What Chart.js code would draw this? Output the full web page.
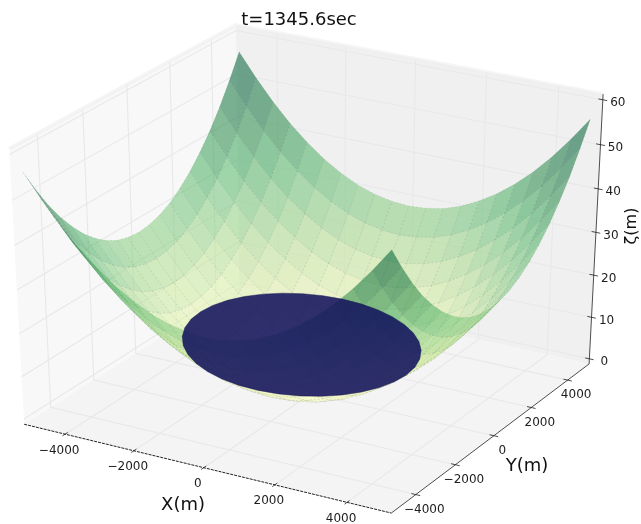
<!DOCTYPE html>
<html>
<head>
  <meta charset="UTF-8">
  <title>t=1345.6sec</title>
  <script src="https://cdn.jsdelivr.net/npm/chart.js"></script>
  <style>
    html, body { margin: 0; padding: 0; background: #fff; }
    canvas { display: block; }
  </style>
</head>
<body>
  <canvas id="bowl" width="641" height="524"></canvas>

  <script>
    const chartTitle = 't=1345.6sec';
    const xLabel = 'X(m)';
    const yLabel = 'Y(m)';
    const zLabel = 'ζ(m)';

    const xTicks = [-4000, -2000, 0, 2000, 4000];
    const yTicks = [-4000, -2000, 0, 2000, 4000];
    const zTicks = [0, 10, 20, 30, 40, 50, 60];
    const xLimits = [-5208, 5208];
    const yLimits = [-5208, 5208];
    const zLimits = [-1.25, 61.25];

    // bed grid
    const gridX = [-5000, -4500, -4000, -3500, -3000, -2500, -2000, -1500, -1000, -500, 0, 500, 1000, 1500, 2000, 2500, 3000, 3500, 4000, 4500, 5000];
    const gridY = [-5000, -4500, -4000, -3500, -3000, -2500, -2000, -1500, -1000, -500, 0, 500, 1000, 1500, 2000, 2500, 3000, 3500, 4000, 4500, 5000];
    const bedZ = [
      [56.0, 50.7, 45.9, 41.7, 38.1, 35.0, 32.5, 30.5, 29.1, 28.3, 28.0, 28.3, 29.1, 30.5, 32.5, 35.0, 38.1, 41.7, 45.9, 50.7, 56.0],
      [50.7, 45.4, 40.6, 36.4, 32.8, 29.7, 27.2, 25.2, 23.8, 23.0, 22.7, 23.0, 23.8, 25.2, 27.2, 29.7, 32.8, 36.4, 40.6, 45.4, 50.7],
      [45.9, 40.6, 35.8, 31.6, 28.0, 24.9, 22.4, 20.4, 19.0, 18.2, 17.9, 18.2, 19.0, 20.4, 22.4, 24.9, 28.0, 31.6, 35.8, 40.6, 45.9],
      [41.7, 36.4, 31.6, 27.4, 23.8, 20.7, 18.2, 16.2, 14.8, 14.0, 13.7, 14.0, 14.8, 16.2, 18.2, 20.7, 23.8, 27.4, 31.6, 36.4, 41.7],
      [38.1, 32.8, 28.0, 23.8, 20.2, 17.1, 14.6, 12.6, 11.2, 10.4, 10.1, 10.4, 11.2, 12.6, 14.6, 17.1, 20.2, 23.8, 28.0, 32.8, 38.1],
      [35.0, 29.7, 24.9, 20.7, 17.1, 14.0, 11.5, 9.5, 8.1, 7.3, 7.0, 7.3, 8.1, 9.5, 11.5, 14.0, 17.1, 20.7, 24.9, 29.7, 35.0],
      [32.5, 27.2, 22.4, 18.2, 14.6, 11.5, 9.0, 7.0, 5.6, 4.8, 4.5, 4.8, 5.6, 7.0, 9.0, 11.5, 14.6, 18.2, 22.4, 27.2, 32.5],
      [30.5, 25.2, 20.4, 16.2, 12.6, 9.5, 7.0, 5.0, 3.6, 2.8, 2.5, 2.8, 3.6, 5.0, 7.0, 9.5, 12.6, 16.2, 20.4, 25.2, 30.5],
      [29.1, 23.8, 19.0, 14.8, 11.2, 8.1, 5.6, 3.6, 2.2, 1.4, 1.1, 1.4, 2.2, 3.6, 5.6, 8.1, 11.2, 14.8, 19.0, 23.8, 29.1],
      [28.3, 23.0, 18.2, 14.0, 10.4, 7.3, 4.8, 2.8, 1.4, 0.6, 0.3, 0.6, 1.4, 2.8, 4.8, 7.3, 10.4, 14.0, 18.2, 23.0, 28.3],
      [28.0, 22.7, 17.9, 13.7, 10.1, 7.0, 4.5, 2.5, 1.1, 0.3, 0.0, 0.3, 1.1, 2.5, 4.5, 7.0, 10.1, 13.7, 17.9, 22.7, 28.0],
      [28.3, 23.0, 18.2, 14.0, 10.4, 7.3, 4.8, 2.8, 1.4, 0.6, 0.3, 0.6, 1.4, 2.8, 4.8, 7.3, 10.4, 14.0, 18.2, 23.0, 28.3],
      [29.1, 23.8, 19.0, 14.8, 11.2, 8.1, 5.6, 3.6, 2.2, 1.4, 1.1, 1.4, 2.2, 3.6, 5.6, 8.1, 11.2, 14.8, 19.0, 23.8, 29.1],
      [30.5, 25.2, 20.4, 16.2, 12.6, 9.5, 7.0, 5.0, 3.6, 2.8, 2.5, 2.8, 3.6, 5.0, 7.0, 9.5, 12.6, 16.2, 20.4, 25.2, 30.5],
      [32.5, 27.2, 22.4, 18.2, 14.6, 11.5, 9.0, 7.0, 5.6, 4.8, 4.5, 4.8, 5.6, 7.0, 9.0, 11.5, 14.6, 18.2, 22.4, 27.2, 32.5],
      [35.0, 29.7, 24.9, 20.7, 17.1, 14.0, 11.5, 9.5, 8.1, 7.3, 7.0, 7.3, 8.1, 9.5, 11.5, 14.0, 17.1, 20.7, 24.9, 29.7, 35.0],
      [38.1, 32.8, 28.0, 23.8, 20.2, 17.1, 14.6, 12.6, 11.2, 10.4, 10.1, 10.4, 11.2, 12.6, 14.6, 17.1, 20.2, 23.8, 28.0, 32.8, 38.1],
      [41.7, 36.4, 31.6, 27.4, 23.8, 20.7, 18.2, 16.2, 14.8, 14.0, 13.7, 14.0, 14.8, 16.2, 18.2, 20.7, 23.8, 27.4, 31.6, 36.4, 41.7],
      [45.9, 40.6, 35.8, 31.6, 28.0, 24.9, 22.4, 20.4, 19.0, 18.2, 17.9, 18.2, 19.0, 20.4, 22.4, 24.9, 28.0, 31.6, 35.8, 40.6, 45.9],
      [50.7, 45.4, 40.6, 36.4, 32.8, 29.7, 27.2, 25.2, 23.8, 23.0, 22.7, 23.0, 23.8, 25.2, 27.2, 29.7, 32.8, 36.4, 40.6, 45.4, 50.7],
      [56.0, 50.7, 45.9, 41.7, 38.1, 35.0, 32.5, 30.5, 29.1, 28.3, 28.0, 28.3, 29.1, 30.5, 32.5, 35.0, 38.1, 41.7, 45.9, 50.7, 56.0]
    ];

    // water edge, read round the dark disc
    const waterX = [2651, 2606, 2472, 2252, 1955, 1589, 1164, 693, 194, -324, -842, -1341, -1812, -2237, -2603, -2900, -3120, -3254, -3299, -3254, -3120, -2900, -2603, -2237, -1812, -1341, -842, -324, 194, 693, 1164, 1589, 1955, 2252, 2472, 2606];
    const waterY = [132, 650, 1149, 1620, 2045, 2411, 2708, 2928, 3062, 3107, 3062, 2928, 2708, 2411, 2045, 1620, 1149, 650, 132, -400, -920, -1410, -1850, -2230, -2540, -2770, -2910, -2960, -2910, -2770, -2540, -2230, -1850, -1410, -920, -400];
    const waterZ = [7.80, 7.83, 7.93, 8.08, 8.28, 8.53, 8.82, 9.14, 9.48, 9.83, 10.18, 10.52, 10.84, 11.13, 11.38, 11.58, 11.73, 11.83, 11.86, 11.83, 11.73, 11.58, 11.38, 11.13, 10.84, 10.52, 10.18, 9.83, 9.48, 9.14, 8.82, 8.53, 8.28, 8.08, 7.93, 7.83];

    // same camera as a default mplot3d view: elev 30, azim -60, dist 10
    const right = [0.866, 0.5, 0];
    const up = [-0.25, 0.433, 0.866];
    const toEye = [0.433, -0.75, 0.5];
    const camDist = 10;

    function centred(x, y, z) {
      return [
        (x - xLimits[0]) / (xLimits[1] - xLimits[0]) - 0.5,
        (y - yLimits[0]) / (yLimits[1] - yLimits[0]) - 0.5,
        (z - zLimits[0]) / (zLimits[1] - zLimits[0]) - 0.5
      ];
    }
    const dot = (a, b) => a[0] * b[0] + a[1] * b[1] + a[2] * b[2];
    function depth(x, y, z) {
      return camDist - dot(centred(x, y, z), toEye);
    }
    function project(x, y, z) {
      const p = centred(x, y, z);
      const d = depth(x, y, z);
      return { x: dot(p, right) * camDist / d, y: dot(p, up) * camDist / d };
    }

    const ylgn = [[255, 255, 229], [247, 252, 185], [217, 240, 163], [173, 221, 142], [120, 198, 121], [65, 171, 93], [35, 132, 67], [0, 104, 55], [0, 69, 41]];
    function bedColor(z) {
      const t = Math.min(0.999, Math.max(0, z / 56)) * (ylgn.length - 1);
      const i = Math.floor(t), f = t - i;
      const c = ylgn[i].map((v, k) => Math.round(v + (ylgn[i + 1][k] - v) * f));
      return `rgba(${c[0]},${c[1]},${c[2]},0.55)`;
    }

    function path(points3d, color, width, dash) {
      return {
        data: points3d.map(p => project(p[0], p[1], p[2])),
        borderColor: color,
        borderWidth: width,
        borderDash: dash || [],
        fill: false,
        pointRadius: 0,
        tension: 0,
        clip: false
      };
    }
    function polygon(points3d, color, edge, width, dash) {
      const closed = points3d.concat([points3d[0]]);
      const ds = path(closed, edge, width, dash);
      ds.backgroundColor = color;
      ds.fill = 'shape';
      return ds;
    }

    const [x0, x1] = xLimits, [y0, y1] = yLimits, [z0, z1] = zLimits;
    const drawn = [];   // first entry is painted first

    // panes
    drawn.push(polygon([[x0, y0, z0], [x0, y1, z0], [x0, y1, z1], [x0, y0, z1]], '#f8f8f8', 'rgba(0,0,0,0)', 0));
    drawn.push(polygon([[x0, y1, z0], [x1, y1, z0], [x1, y1, z1], [x0, y1, z1]], '#f0f0f0', 'rgba(0,0,0,0)', 0));
    drawn.push(polygon([[x0, y0, z0], [x1, y0, z0], [x1, y1, z0], [x0, y1, z0]], '#f4f4f4', 'rgba(0,0,0,0)', 0));

    // pane grid
    const gridColor = '#e8e8e8';
    xTicks.forEach(t => {
      drawn.push(path([[t, y0, z0], [t, y1, z0], [t, y1, z1]], gridColor, 1.1));
    });
    yTicks.forEach(t => {
      drawn.push(path([[x1, t, z0], [x0, t, z0], [x0, t, z1]], gridColor, 1.1));
    });
    zTicks.forEach(t => {
      drawn.push(path([[x0, y0, t], [x0, y1, t], [x1, y1, t]], gridColor, 1.1));
    });
    drawn.push(path([[x0, y0, z1], [x0, y1, z1], [x1, y1, z1]], 'rgba(238,238,238,0.6)', 4));

    // bed cells, far ones first
    const cells = [];
    for (let j = 0; j < gridY.length - 1; j++) {
      for (let i = 0; i < gridX.length - 1; i++) {
        const corners = [
          [gridX[i], gridY[j], bedZ[j][i]],
          [gridX[i + 1], gridY[j], bedZ[j][i + 1]],
          [gridX[i + 1], gridY[j + 1], bedZ[j + 1][i + 1]],
          [gridX[i], gridY[j + 1], bedZ[j + 1][i]]
        ];
        const meanZ = (corners[0][2] + corners[1][2] + corners[2][2] + corners[3][2]) / 4;
        const meanX = (gridX[i] + gridX[i + 1]) / 2;
        const meanY = (gridY[j] + gridY[j + 1]) / 2;
        cells.push({ d: depth(meanX, meanY, meanZ), corners, meanZ });
      }
    }
    cells.sort((a, b) => b.d - a.d);
    cells.forEach(c => {
      drawn.push(polygon(c.corners, bedColor(c.meanZ), 'rgba(50,80,60,0.17)', 0.6, [2, 2]));
    });

    // water disc
    drawn.push(polygon(waterX.map((x, i) => [x, waterY[i], waterZ[i]]), 'rgba(18,18,92,0.88)', 'rgba(22,22,85,0.9)', 0.5));

    // axes and tick marks
    const axisColor = '#222';
    drawn.push(path([[x0, y0, z0], [x1, y0, z0]], axisColor, 1, [3, 1]));
    drawn.push(path([[x1, y0, z0], [x1, y1, z0], [x1, y1, z1]], axisColor, 0.8));
    xTicks.forEach(t => {
      drawn.push(path([[t, y0 - 120, z0], [t, y0 + 120, z0]], axisColor, 0.8));
    });
    yTicks.forEach(t => {
      drawn.push(path([[x1 - 120, t, z0], [x1 + 120, t, z0]], axisColor, 0.8));
    });
    zTicks.forEach(t => {
      drawn.push(path([[x1 - 120, y1, t], [x1 + 120, y1, t]], axisColor, 0.8));
    });

    const fmt = v => String(v).replace('-', '\u2212');
    const textFont = '"DejaVu Sans"';
    const textPlugin = {
      id: 'axisText',
      afterDatasetsDraw(chart) {
        const ctx = chart.ctx;
        const sx = chart.scales.x, sy = chart.scales.y;
        const at = (x, y, z) => {
          const p = project(x, y, z);
          return [sx.getPixelForValue(p.x), sy.getPixelForValue(p.y)];
        };
        ctx.save();
        ctx.fillStyle = '#1c1c1c';
        ctx.textAlign = 'center';
        ctx.textBaseline = 'middle';

        ctx.font = '12px ' + textFont;
        xTicks.forEach(t => {
          const [px, py] = at(t, y0, z0);
          ctx.fillText(fmt(t), px - 6, py + 16.5);
        });
        yTicks.forEach(t => {
          const [px, py] = at(x1, t, z0);
          ctx.fillText(fmt(t), px + 8.5, py + 15);
        });
        zTicks.forEach(t => {
          const [px, py] = at(x1, y1, t);
          ctx.fillText(fmt(t), px + 15, py + 3.5);
        });

        ctx.font = '18px ' + textFont;
        ctx.fillStyle = '#111';
        ctx.fillText(chartTitle, 299, 20);
        ctx.fillText(xLabel, 183, 505);
        ctx.fillText(yLabel, 527, 466);
        ctx.font = '16px ' + textFont;
        ctx.translate(632, 226);
        ctx.rotate(-Math.PI / 2);
        ctx.fillText(zLabel, 0, 0);
        ctx.restore();
      }
    };

    // scale range puts the view on the 641x524 page
    const originX = 311, originY = 260.7, pxPerX = 423.8, pxPerY = 314.7;

    new Chart(document.getElementById('bowl').getContext('2d'), {
      type: 'line',
      data: { datasets: drawn.slice().reverse() },
      plugins: [textPlugin],
      options: {
        responsive: false,
        animation: false,
        events: [],
        parsing: true,
        layout: { padding: 0 },
        scales: {
          x: { type: 'linear', display: false, min: -originX / pxPerX, max: (641 - originX) / pxPerX },
          y: { type: 'linear', display: false, min: (originY - 524) / pxPerY, max: originY / pxPerY }
        },
        plugins: {
          legend: { display: false },
          tooltip: { enabled: false },
          title: { display: false }
        }
      }
    });
  </script>
</body>
</html>
